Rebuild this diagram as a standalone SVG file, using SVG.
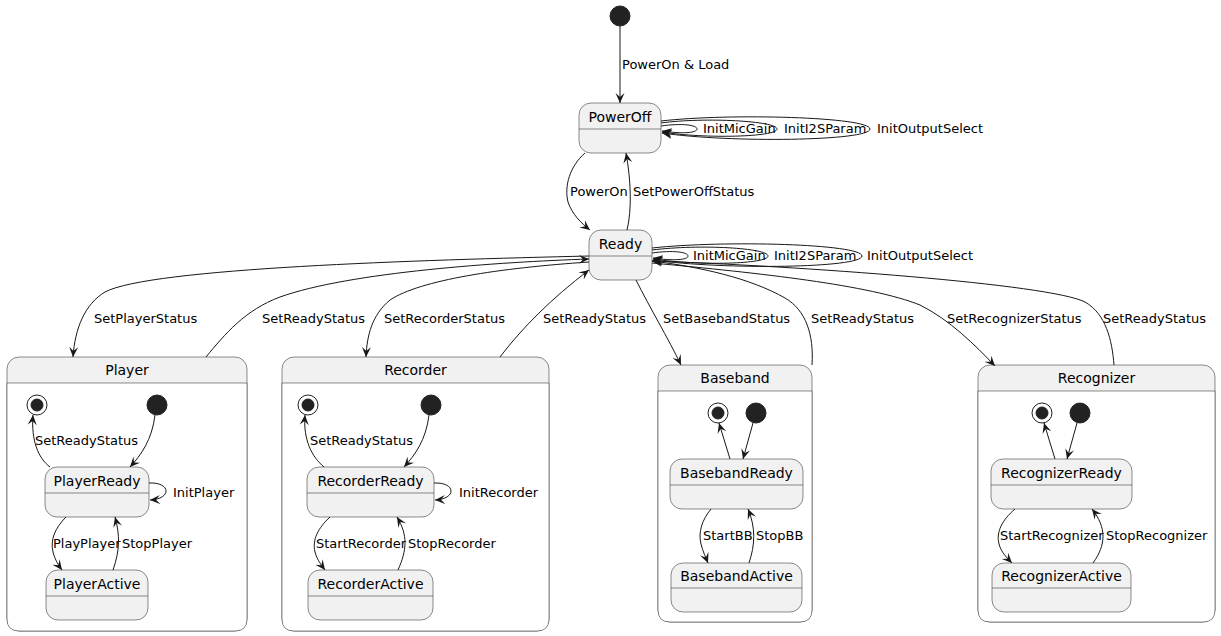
<svg xmlns="http://www.w3.org/2000/svg" width="1221" height="636" viewBox="0 0 1221 636">
<style>
.st{fill:#F1F1F1;stroke:#181818;stroke-width:0.5}
.dv{stroke:#181818;stroke-width:0.5}
.nm{font-family:"DejaVu Sans",sans-serif;font-size:14px;fill:#000;text-anchor:middle}
.lb{font-family:"DejaVu Sans",sans-serif;font-size:13px;fill:#000}
.c{fill:none;stroke:#181818;stroke-width:1;marker-end:url(#ah)}
.ini{fill:#222222;stroke:#222222}
.fin{fill:#FFFFFF;stroke:#222222;stroke-width:1}
</style>
<defs>
<marker id="ah" viewBox="0 0 10 10" refX="10" refY="5" markerWidth="10" markerHeight="10" markerUnits="userSpaceOnUse" orient="auto">
<path d="M0,0.5 L10,5 L0,9.5 L4,5 Z" fill="#181818"/>
</marker>
</defs>

<g id="start"><circle class="ini" cx="620" cy="16" r="10"/></g>

<g id="PowerOff">
<rect class="st" x="579" y="103" width="82" height="50" rx="12"/>
<line class="dv" x1="579" y1="129" x2="661" y2="129"/>
<text class="nm" x="620" y="122">PowerOff</text>
</g>

<g id="Ready">
<rect class="st" x="589" y="230" width="63" height="50" rx="12"/>
<line class="dv" x1="589" y1="256" x2="652" y2="256"/>
<text class="nm" x="620.5" y="249">Ready</text>
</g>

<g id="Player">
<rect class="st" x="7" y="357" width="240" height="274" rx="12"/>
<path d="M7,383 L7,619 Q7,631 19,631 L235,631 Q247,631 247,619 L247,383" fill="#FFFFFF" stroke="#181818" stroke-width="0.5"/>
<line class="dv" x1="7" y1="383" x2="247" y2="383"/>
<text class="nm" x="127" y="375">Player</text>
<g id="Player_final"><circle class="fin" cx="37" cy="405" r="10"/><circle class="ini" cx="37" cy="405" r="6"/></g>
<g id="Player_init"><circle class="ini" cx="157" cy="405" r="10"/></g>
<g id="PlayerReady">
<rect class="st" x="45" y="467" width="104" height="50" rx="12"/>
<line class="dv" x1="45" y1="493" x2="149" y2="493"/>
<text class="nm" x="97" y="486">PlayerReady</text>
</g>
<g id="PlayerActive">
<rect class="st" x="46" y="570" width="102" height="50" rx="12"/>
<line class="dv" x1="46" y1="596" x2="148" y2="596"/>
<text class="nm" x="97" y="589">PlayerActive</text>
</g>
</g>

<g id="Recorder">
<rect class="st" x="282" y="357" width="267" height="274" rx="12"/>
<path d="M282,383 L282,619 Q282,631 294,631 L537,631 Q549,631 549,619 L549,383" fill="#FFFFFF" stroke="#181818" stroke-width="0.5"/>
<line class="dv" x1="282" y1="383" x2="549" y2="383"/>
<text class="nm" x="415.5" y="375">Recorder</text>
<g id="Recorder_final"><circle class="fin" cx="308" cy="405" r="10"/><circle class="ini" cx="308" cy="405" r="6"/></g>
<g id="Recorder_init"><circle class="ini" cx="431" cy="405" r="10"/></g>
<g id="RecorderReady">
<rect class="st" x="307" y="467" width="127" height="50" rx="12"/>
<line class="dv" x1="307" y1="493" x2="434" y2="493"/>
<text class="nm" x="370.5" y="486">RecorderReady</text>
</g>
<g id="RecorderActive">
<rect class="st" x="308" y="570" width="125" height="50" rx="12"/>
<line class="dv" x1="308" y1="596" x2="433" y2="596"/>
<text class="nm" x="370.5" y="589">RecorderActive</text>
</g>
</g>

<g id="Baseband">
<rect class="st" x="658" y="365" width="154" height="257" rx="12"/>
<path d="M658,391 L658,610 Q658,622 670,622 L800,622 Q812,622 812,610 L812,391" fill="#FFFFFF" stroke="#181818" stroke-width="0.5"/>
<line class="dv" x1="658" y1="391" x2="812" y2="391"/>
<text class="nm" x="735" y="383">Baseband</text>
<g id="Baseband_final"><circle class="fin" cx="718" cy="413" r="10"/><circle class="ini" cx="718" cy="413" r="6"/></g>
<g id="Baseband_init"><circle class="ini" cx="756" cy="413" r="10"/></g>
<g id="BasebandReady">
<rect class="st" x="670" y="459" width="133" height="50" rx="12"/>
<line class="dv" x1="670" y1="485" x2="803" y2="485"/>
<text class="nm" x="736.5" y="478">BasebandReady</text>
</g>
<g id="BasebandActive">
<rect class="st" x="671" y="563" width="131" height="49" rx="12"/>
<line class="dv" x1="671" y1="588" x2="802" y2="588"/>
<text class="nm" x="736.5" y="581">BasebandActive</text>
</g>
</g>

<g id="Recognizer">
<rect class="st" x="978" y="365" width="237" height="257" rx="12"/>
<path d="M978,391 L978,610 Q978,622 990,622 L1203,622 Q1215,622 1215,610 L1215,391" fill="#FFFFFF" stroke="#181818" stroke-width="0.5"/>
<line class="dv" x1="978" y1="391" x2="1215" y2="391"/>
<text class="nm" x="1096.5" y="383">Recognizer</text>
<g id="Recognizer_final"><circle class="fin" cx="1042" cy="413" r="10"/><circle class="ini" cx="1042" cy="413" r="6"/></g>
<g id="Recognizer_init"><circle class="ini" cx="1080" cy="413" r="10"/></g>
<g id="RecognizerReady">
<rect class="st" x="991" y="459" width="141" height="50" rx="12"/>
<line class="dv" x1="991" y1="485" x2="1132" y2="485"/>
<text class="nm" x="1061.5" y="478">RecognizerReady</text>
</g>
<g id="RecognizerActive">
<rect class="st" x="992" y="563" width="139" height="49" rx="12"/>
<line class="dv" x1="992" y1="588" x2="1131" y2="588"/>
<text class="nm" x="1061.5" y="581">RecognizerActive</text>
</g>
</g>

<g id="connectors">
<path class="c" d="M620,26 L620,103"/>
<text class="lb" x="622" y="69">PowerOn &amp; Load</text>

<path class="c" d="M661,126 C682,123 697,125 697,129 C697,133 682,134 662,131"/>
<path class="c" d="M661,123 C705,117 777,121 777,129 C777,137 705,139 662,132"/>
<path class="c" d="M661,121 C730,113 870,117 870,129 C870,141 730,143 662,133"/>
<text class="lb" x="703" y="133">InitMicGain</text>
<text class="lb" x="784" y="133">InitI2SParam</text>
<text class="lb" x="877" y="133">InitOutputSelect</text>

<path class="c" d="M585,153 C570,166 564,186 568,202 C572,214 581,223 590,230"/>
<text class="lb" x="570" y="196">PowerOn</text>
<path class="c" d="M627,230 C632,210 631,180 626,153"/>
<text class="lb" x="633" y="196">SetPowerOffStatus</text>

<path class="c" d="M652,253 C673,250 688,252 688,256 C688,260 673,261 653,258"/>
<path class="c" d="M652,250 C700,244 768,248 768,256 C768,264 700,266 653,259"/>
<path class="c" d="M652,248 C725,240 862,244 862,256 C862,268 725,270 653,260"/>
<text class="lb" x="693" y="260">InitMicGain</text>
<text class="lb" x="774" y="260">InitI2SParam</text>
<text class="lb" x="867" y="260">InitOutputSelect</text>

<path class="c" d="M589,256 C420,260 150,268 105,292 C85,304 75,328 73,357"/>
<text class="lb" x="94" y="323">SetPlayerStatus</text>
<path class="c" d="M206,357 C225,334 245,310 280,297 C350,272 500,262 589,259"/>
<text class="lb" x="262" y="323">SetReadyStatus</text>
<path class="c" d="M589,262 C500,268 420,280 390,300 C372,315 367,335 366,357"/>
<text class="lb" x="384" y="323">SetRecorderStatus</text>
<path class="c" d="M500,357 C522,328 552,298 589,270"/>
<text class="lb" x="543" y="323">SetReadyStatus</text>
<path class="c" d="M636,280 C650,308 668,338 681,365"/>
<text class="lb" x="663" y="323">SetBasebandStatus</text>
<path class="c" d="M812,365 C814,335 806,310 785,298 C750,278 700,267 652,261"/>
<text class="lb" x="811" y="323">SetReadyStatus</text>
<path class="c" d="M652,263 C760,273 870,285 920,305 C950,320 975,345 995,366"/>
<text class="lb" x="947" y="323">SetRecognizerStatus</text>
<path class="c" d="M1114,365 C1112,340 1106,314 1085,302 C1050,284 800,266 652,261"/>
<text class="lb" x="1103" y="323">SetReadyStatus</text>

<path class="c" d="M155,415 C152,440 141,455 130,467"/>
<path class="c" d="M50,467 C38,458 31,440 33,415"/>
<text class="lb" x="35" y="445">SetReadyStatus</text>
<path class="c" d="M149,483 C171,482 172,499 150,500"/>
<text class="lb" x="173" y="497">InitPlayer</text>
<path class="c" d="M66,517 C55,528 50,540 53,552 C55,560 59,566 62,570"/>
<text class="lb" x="53" y="548">PlayPlayer</text>
<path class="c" d="M113,570 C120,550 120,535 115,517"/>
<text class="lb" x="122" y="548">StopPlayer</text>

<path class="c" d="M429,415 C426,440 415,455 404,467"/>
<path class="c" d="M324,467 C312,457 303,440 305,415"/>
<text class="lb" x="310" y="445">SetReadyStatus</text>
<path class="c" d="M434,483 C456,482 457,499 435,500"/>
<text class="lb" x="459" y="497">InitRecorder</text>
<path class="c" d="M330,517 C318,528 312,540 315,552 C317,560 322,566 325,570"/>
<text class="lb" x="316" y="548">StartRecorder</text>
<path class="c" d="M398,570 C407,550 408,535 397,517"/>
<text class="lb" x="408" y="548">StopRecorder</text>

<path class="c" d="M753,423 L743,459"/>
<path class="c" d="M730,459 L719,423"/>
<path class="c" d="M711,509 C702,520 698,532 701,544 C703,552 706,558 708,563"/>
<text class="lb" x="703" y="540">StartBB</text>
<path class="c" d="M749,563 C755,545 756,528 748,509"/>
<text class="lb" x="756" y="540">StopBB</text>

<path class="c" d="M1077,423 L1067,459"/>
<path class="c" d="M1055,459 L1044,423"/>
<path class="c" d="M1015,509 C1002,520 996,532 999,544 C1001,552 1007,558 1012,563"/>
<text class="lb" x="1000" y="540">StartRecognizer</text>
<path class="c" d="M1093,563 C1106,545 1107,528 1092,509"/>
<text class="lb" x="1106" y="540">StopRecognizer</text>
</g>
</svg>
